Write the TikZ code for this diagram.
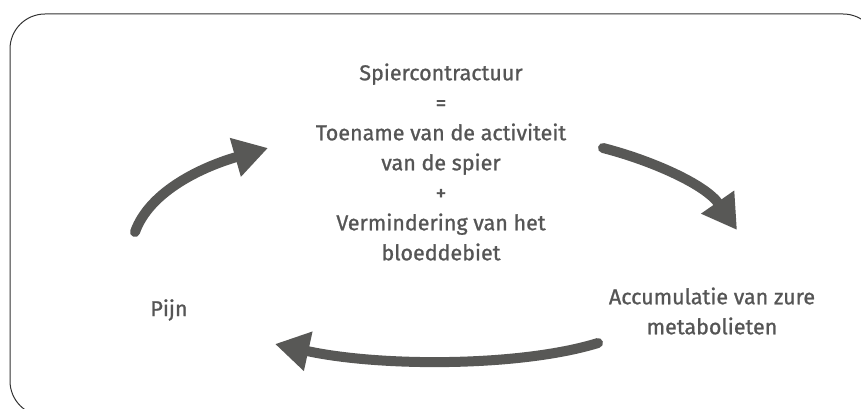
\documentclass[tikz,border=0pt]{standalone}
\usepackage{fontspec}
\setmainfont{Fira Sans}[BoldFont=*, BoldFeatures={FakeBold=1}]
\usetikzlibrary{arrows.meta}
\definecolor{txt}{HTML}{555555}
\definecolor{arr}{HTML}{585856}
\definecolor{frame}{HTML}{333333}
\tikzset{
  lbl/.style={text=txt, font=\fontsize{21.5}{30}\selectfont\bfseries, align=center, inner sep=0pt},
  cyc/.style={draw=arr, line width=10pt, line cap=round, -{Triangle[length=34pt,width=38pt]}},
}
\begin{document}
\begin{tikzpicture}[x=1pt,y=-1pt]
\useasboundingbox (0,0) rectangle (861,409);
\draw[frame, line width=1pt, rounded corners=35pt] (10,14) rectangle (878,416);
\node[lbl] (main) at (441,162) {Spiercontractuur\\=\\Toename van de activiteit\\van de spier\\+\\Vermindering van het\\bloeddebiet};
\node[lbl] (pijn) at (169,310) {Pijn};
\node[lbl] (acc) at (712,311) {Accumulatie van zure\\metabolieten};
\coordinate (a1s) at (135,232);
\coordinate (a1e) at (268,148);
\coordinate (a2s) at (603,148);
\coordinate (a2e) at (737,230);
\coordinate (a3s) at (598,343);
\coordinate (a3e) at (275,344);
\draw[cyc] (a1s) .. controls (150,190) and (205,166) .. (a1e);
\draw[cyc] (a2s) .. controls (650,160) and (705,184) .. (a2e);
\draw[cyc] (a3s) .. controls (520,367) and (380,367) .. (a3e);
\end{tikzpicture}
\end{document}
